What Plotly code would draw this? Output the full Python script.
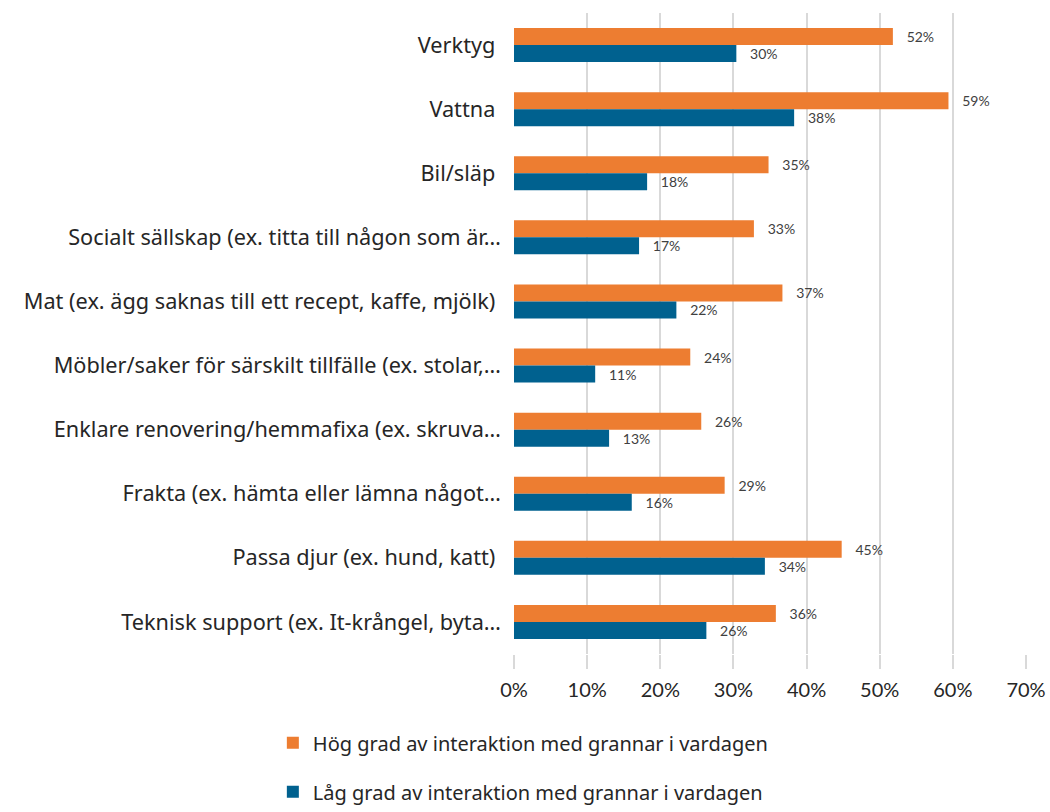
import plotly.graph_objects as go

NB = "\u00a0"
categories = [
    "Verktyg" + NB,
    "Vattna" + NB,
    "Bil/släp" + NB,
    "Socialt sällskap (ex. titta till någon som är…",
    "Mat (ex. ägg saknas till ett recept, kaffe, mjölk)" + NB,
    "Möbler/saker för särskilt tillfälle (ex. stolar,…",
    "Enklare renovering/hemmafixa (ex. skruva…",
    "Frakta (ex. hämta eller lämna något…",
    "Passa djur (ex. hund, katt)" + NB,
    "Teknisk support (ex. It-krångel, byta…",
]
hog = [0.518, 0.594, 0.348, 0.328, 0.367, 0.241, 0.256, 0.288, 0.448, 0.358]
lag = [0.304, 0.383, 0.182, 0.171, 0.222, 0.111, 0.130, 0.161, 0.343, 0.263]
series_names = [
    "Hög grad av interaktion med grannar i vardagen",
    "Låg grad av interaktion med grannar i vardagen",
]
colors = ["#ED7D31", "#00618F"]
tick_vals = [0, 0.1, 0.2, 0.3, 0.4, 0.5, 0.6, 0.7]
tick_text = ["0%", "10%", "20%", "30%", "40%", "50%", "60%", "70%"]

fig = go.Figure()
for name, vals, col in zip(series_names, [hog, lag], colors):
    fig.add_trace(go.Bar(
        y=categories, x=vals, orientation="h", name=name,
        marker=dict(color=col, line=dict(width=0)),
        text=[f"{round(v*100)}%" for v in vals],
        texttemplate=NB * 3 + "%{text}",
        textposition="outside", cliponaxis=False, constraintext="none",
        textfont=dict(family="Lato, Inter, sans-serif", size=14, color="#404040"),
        legendgroup=name,
    ))

fig.update_layout(
    width=1050, height=812,
    margin=dict(l=514, r=24, t=13, b=158, autoexpand=False),
    plot_bgcolor="white", paper_bgcolor="white",
    barmode="group", bargap=0.47, bargroupgap=0,
    font=dict(family="Noto Sans, Open Sans, sans-serif", size=21.7, color="#262626"),
    xaxis=dict(range=[0, 0.7], tickvals=tick_vals, ticktext=tick_text,
               showgrid=True, gridcolor="#D9D9D9", gridwidth=2,
               zeroline=False, showline=False, automargin=False,
               ticks="outside", ticklen=14, tickcolor="#D9D9D9", tickwidth=2,
               ticklabelstandoff=4,
               tickfont=dict(family="Lato, Inter, sans-serif", size=20, color="#262626")),
    yaxis=dict(autorange="reversed", showgrid=False, ticks="", ticklabelstandoff=12,
               automargin=False,
               tickfont=dict(size=21.7, color="#262626"), showline=False),
    legend=dict(orientation="v", x=-0.471, xanchor="left", y=-0.108, yanchor="top",
                traceorder="grouped", tracegroupgap=20,
                font=dict(size=20, color="#262626")),
)
fig.write_html(
    "out.html",
    config={"displayModeBar": False},
    post_script="document.body.style.margin='0';document.body.style.overflow='hidden';",
)
